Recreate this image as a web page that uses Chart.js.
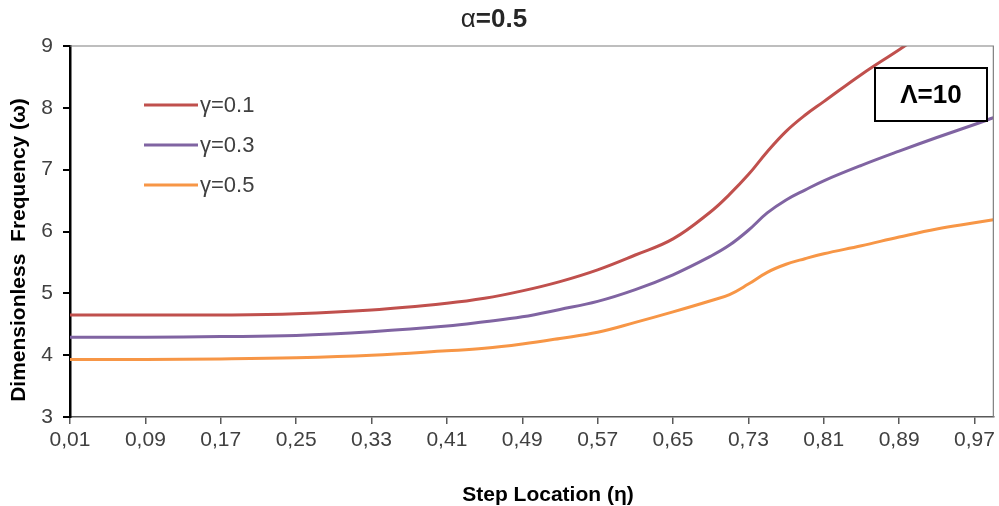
<!DOCTYPE html>
<html>
<head>
<meta charset="utf-8">
<script src="https://cdn.jsdelivr.net/npm/chart.js@4/dist/chart.umd.min.js"></script>
<style>
  html, body { margin: 0; padding: 0; background: #fff; }
  #wrap { width: 999px; height: 506px; }
</style>
</head>
<body>
<div id="wrap"><canvas id="freqChart" width="999" height="506"></canvas></div>
<script>
// step location values where the curves were read
const etaPoints = [0.01, 0.09, 0.17, 0.25, 0.33, 0.41, 0.45, 0.49, 0.53, 0.57, 0.61, 0.65,
  0.69, 0.71, 0.73, 0.75, 0.77, 0.79, 0.81, 0.85, 0.89, 0.93, 0.97, 0.99];

const gamma01 = [4.65, 4.65, 4.65, 4.67, 4.73, 4.84, 4.92, 5.04, 5.19, 5.38, 5.62, 5.88,
  6.32, 6.60, 6.92, 7.29, 7.62, 7.88, 8.10, 8.54, 8.94, 9.35, 9.75, 9.95];
const gamma03 = [4.29, 4.29, 4.30, 4.32, 4.38, 4.47, 4.54, 4.62, 4.74, 4.87, 5.06, 5.30,
  5.60, 5.78, 6.02, 6.30, 6.51, 6.67, 6.82, 7.07, 7.30, 7.52, 7.73, 7.84];
const gamma05 = [3.93, 3.93, 3.94, 3.96, 4.00, 4.07, 4.11, 4.18, 4.27, 4.37, 4.53, 4.70,
  4.88, 4.98, 5.15, 5.34, 5.47, 5.56, 5.64, 5.77, 5.91, 6.04, 6.14, 6.19];

const seriesLabels = ["γ=0.1", "γ=0.3", "γ=0.5"];
const seriesColors = ["#C0504D", "#8064A2", "#F79646"];

const xTicks = [0.01, 0.09, 0.17, 0.25, 0.33, 0.41, 0.49, 0.57, 0.65, 0.73, 0.81, 0.89, 0.97];
const yTicks = [3, 4, 5, 6, 7, 8, 9];

const chartTitle = ["α", "=0.5"];
const yTitle = "Dimensionless  Frequency (ω)";
const xTitle = "Step Location (η)";
const boxLabel = "Λ=10";

const FONT = "'Liberation Sans', Arial, sans-serif";

function toPoints(values) {
  return etaPoints.map((eta, i) => ({ x: eta, y: values[i] }));
}

const datasets = [gamma01, gamma03, gamma05].map((values, i) => ({
  label: seriesLabels[i],
  data: toPoints(values),
  borderColor: seriesColors[i],
  backgroundColor: seriesColors[i],
  borderWidth: 3,
  pointRadius: 0,
  tension: 0.4,
  clip: 0
}));

// titles, legend, frame and the Λ box
const decorations = {
  id: "decorations",
  afterDraw(chart) {
    const ctx = chart.ctx;
    const area = chart.chartArea;
    ctx.save();

    // top and right frame
    ctx.strokeStyle = "#7f7f7f";
    ctx.lineWidth = 1.2;
    ctx.beginPath();
    ctx.moveTo(area.left, area.top);
    ctx.lineTo(area.right, area.top);
    ctx.lineTo(area.right, area.bottom);
    ctx.stroke();

    // chart title with regular alpha and bold rest
    ctx.fillStyle = "#262626";
    ctx.textBaseline = "middle";
    ctx.font = "26px " + FONT;
    const w1 = ctx.measureText(chartTitle[0]).width;
    ctx.font = "bold 26px " + FONT;
    const w2 = ctx.measureText(chartTitle[1]).width;
    const tx = 494 - (w1 + w2) / 2;
    ctx.textAlign = "left";
    ctx.font = "26px " + FONT;
    ctx.fillText(chartTitle[0], tx, 20);
    ctx.font = "bold 26px " + FONT;
    ctx.fillText(chartTitle[1], tx + w1, 20);

    // axis titles
    ctx.fillStyle = "#000";
    ctx.font = "bold 21px " + FONT;
    ctx.textAlign = "center";
    ctx.fillText(xTitle, 548, 495);
    ctx.save();
    ctx.translate(19, 250);
    ctx.rotate(-Math.PI / 2);
    ctx.fillText(yTitle, 0, 0);
    ctx.restore();

    // legend inside the plot
    ctx.font = "22px " + FONT;
    ctx.textAlign = "left";
    ctx.fillStyle = "#404040";
    chart.data.datasets.forEach((ds, i) => {
      const ly = 105 + i * 40;
      ctx.strokeStyle = ds.borderColor;
      ctx.lineWidth = 3;
      ctx.beginPath();
      ctx.moveTo(144, ly);
      ctx.lineTo(198, ly);
      ctx.stroke();
      ctx.fillText(ds.label, 200, ly + 1);
    });

    // Λ=10 box
    ctx.fillStyle = "#fff";
    ctx.fillRect(875, 68, 112, 53);
    ctx.strokeStyle = "#000";
    ctx.lineWidth = 2;
    ctx.strokeRect(875, 68, 112, 53);
    ctx.fillStyle = "#000";
    ctx.font = "bold 26px " + FONT;
    ctx.textAlign = "center";
    ctx.fillText(boxLabel, 931, 96);

    ctx.restore();
  }
};

const ctx = document.getElementById("freqChart").getContext("2d");
const freqChart = new Chart(ctx, {
  type: "line",
  data: { datasets: datasets },
  options: {
    responsive: false,
    animation: false,
    layout: { padding: { top: 46, right: 3, left: 0, bottom: 0 } },
    plugins: {
      legend: { display: false },
      title: { display: false },
      tooltip: { enabled: false }
    },
    scales: {
      x: {
        type: "linear",
        min: 0.01,
        max: 0.99,
        afterBuildTicks: (scale) => {
          scale.ticks = xTicks.map(v => ({ value: v }));
        },
        afterFit: (scale) => { scale.height = 89; },
        ticks: {
          autoSkip: false,
          maxRotation: 0,
          padding: 4,
          color: "#404040",
          font: { size: 21, family: FONT },
          callback: (v) => v.toFixed(2).replace(".", ",")
        },
        grid: {
          drawOnChartArea: false,
          drawTicks: true,
          tickLength: 7,
          color: "#595959",
          lineWidth: 1.5
        },
        border: { color: "#595959", width: 1.5 }
      },
      y: {
        min: 3,
        max: 9,
        afterBuildTicks: (scale) => {
          scale.ticks = yTicks.map(v => ({ value: v }));
        },
        afterFit: (scale) => { scale.width = 70; },
        ticks: {
          padding: 10,
          color: "#404040",
          font: { size: 21, family: FONT }
        },
        grid: {
          drawOnChartArea: false,
          drawTicks: true,
          tickLength: 7,
          color: "#000",
          lineWidth: 2
        },
        border: { color: "#000", width: 2.5 }
      }
    }
  },
  plugins: [decorations]
});
</script>
</body>
</html>
